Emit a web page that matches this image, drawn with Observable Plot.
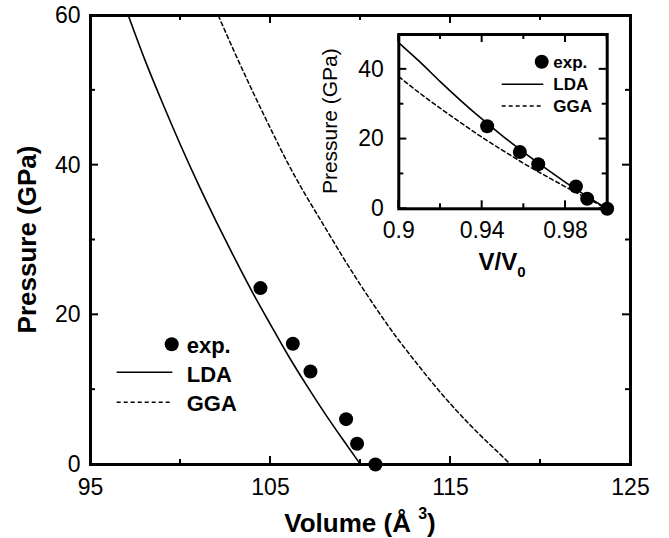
<!DOCTYPE html>
<html>
<head>
<meta charset="utf-8">
<script src="https://cdn.jsdelivr.net/npm/d3@7"></script>
<script src="https://cdn.jsdelivr.net/npm/@observablehq/plot@0.6"></script>
<style>
  html, body { margin: 0; padding: 0; background: #fff; }
  #wrap { position: relative; width: 669px; height: 538px; font-family: "Liberation Sans", Arial, sans-serif; }
  #wrap svg { position: absolute; overflow: visible; }
</style>
</head>
<body>
<div id="wrap"></div>
<script>
// ---------- data: main panel ----------
const ldaV = [97.1, 98, 99, 100, 101, 102, 103, 104, 105, 106, 107, 108, 109, 110];
const ldaP = [60, 54.2, 48.3, 42.7, 37.4, 32.4, 27.6, 23.0, 18.7, 14.5, 10.6, 6.9, 3.4, 0];
const ggaV = [102.1, 103, 104, 105, 106, 107, 108, 109, 110, 111, 112, 113, 114, 115, 116, 117, 118, 118.33];
const ggaP = [60, 55.1, 49.9, 44.9, 40.1, 35.8, 31.8, 27.8, 24.0, 20.4, 17.0, 13.9, 10.9, 8.1, 5.5, 3.1, 0.8, 0];
const expV = [104.44, 106.24, 107.22, 109.2, 109.81, 110.83];
const expP = [23.57, 16.13, 12.43, 6.06, 2.77, 0];
const mainMajorX = [95, 105, 115, 125];
const mainMinorX = [100, 110, 120];
const mainMajorY = [0, 20, 40, 60];
const mainMinorY = [10, 30, 50];

// ---------- data: inset ----------
const insetX = [0.9, 0.91, 0.92, 0.93, 0.94, 0.95, 0.96, 0.97, 0.98, 0.99, 1.0];
const insetLdaP = [47.6, 42.2, 36.4, 30.9, 25.7, 20.8, 16.2, 11.8, 7.6, 3.7, 0];
const insetGgaP = [37.9, 33.2, 28.8, 24.6, 20.5, 16.7, 13.0, 9.6, 6.3, 3.1, 0];
const insetExpX = [0.9424, 0.9581, 0.9669, 0.985, 0.9904, 1.0];
const insetExpP = [23.7, 16.3, 12.8, 6.4, 2.9, 0];
const insetMajorX = [0.9, 0.94, 0.98];
const insetMinorX = [0.92, 0.96, 1.0];
const insetMajorY = [0, 20, 40];
const insetMinorY = [10, 30, 50];

const FONT = '"Liberation Sans", Arial, sans-serif';
const wrap = document.getElementById("wrap");

function zip(xs, ys) { return xs.map((x, i) => ({x, y: ys[i]})); }

// inward ticks on all four sides, positioned through the plot's own scales
function drawTicks(svg, box, majX, minX, majY, minY, majLen, minLen) {
  const sx = svg.scale("x"), sy = svg.scale("y");
  const g = d3.select(svg).append("g").attr("stroke", "black").attr("stroke-width", 2);
  const x0 = box.left, x1 = box.width - box.right, y0 = box.top, y1 = box.height - box.bottom;
  const addX = (vals, len) => vals.forEach(v => {
    const px = sx.apply(v);
    g.append("line").attr("x1", px).attr("x2", px).attr("y1", y1).attr("y2", y1 - len);
    g.append("line").attr("x1", px).attr("x2", px).attr("y1", y0).attr("y2", y0 + len);
  });
  const addY = (vals, len) => vals.forEach(v => {
    const py = sy.apply(v);
    g.append("line").attr("y1", py).attr("y2", py).attr("x1", x0).attr("x2", x0 + len);
    g.append("line").attr("y1", py).attr("y2", py).attr("x1", x1).attr("x2", x1 - len);
  });
  addX(majX, majLen); addX(minX, minLen); addY(majY, majLen); addY(minY, minLen);
}

// ---------- main plot ----------
const M = {width: 669, height: 538, left: 90, right: 39, top: 15, bottom: 74};
const MH = M.height - M.top - M.bottom;
const main = Plot.plot({
  width: M.width, height: M.height,
  marginLeft: M.left, marginRight: M.right, marginTop: M.top, marginBottom: M.bottom,
  style: {fontSize: "23px", fontFamily: FONT, background: "transparent", color: "black"},
  x: {domain: [95, 125]},
  y: {domain: [0, 60]},
  marks: [
    Plot.line(zip(ldaV, ldaP), {x: "x", y: "y", stroke: "black", strokeWidth: 1.6, curve: "monotone-x"}),
    Plot.line(zip(ggaV, ggaP), {x: "x", y: "y", stroke: "black", strokeWidth: 1.5, strokeDasharray: "4,3", curve: "monotone-x"}),
    Plot.frame({stroke: "black", strokeWidth: 3}),
    Plot.dot(zip(expV, expP), {x: "x", y: "y", r: 7, fill: "black", stroke: "none"}),
    Plot.axisX({ticks: mainMajorX, tickSize: 0, tickPadding: 14, label: null, tickFormat: d => String(d)}),
    Plot.axisY({ticks: mainMajorY, tickSize: 0, tickPadding: 10, label: null, tickFormat: d => String(d)})
  ]
});
main.style.left = "0px"; main.style.top = "0px";
wrap.appendChild(main);
drawTicks(main, M, mainMajorX, mainMinorX, mainMajorY, mainMinorY, 8, 5);

const ms = d3.select(main);
ms.append("text")
  .attr("transform", `translate(36,${M.top + MH / 2}) rotate(-90)`)
  .attr("text-anchor", "middle").attr("font-weight", "bold").attr("font-size", 26)
  .attr("font-family", FONT).attr("fill", "black")
  .text("Pressure (GPa)");
const xt = ms.append("text")
  .attr("x", 360).attr("y", 531.5)
  .attr("text-anchor", "middle").attr("font-weight", "bold").attr("font-size", 26)
  .attr("font-family", FONT).attr("fill", "black");
xt.append("tspan").text("Volume (Å ");
xt.append("tspan").attr("font-size", 16).attr("dy", -13).text("3");
xt.append("tspan").attr("dy", 13).text(")");

// main legend
const lg = ms.append("g").attr("font-family", FONT).attr("font-weight", "bold").attr("font-size", 22)
  .attr("fill", "black").attr("text-anchor", "start");
lg.append("circle").attr("cx", 171.7).attr("cy", 344.3).attr("r", 7).attr("fill", "black");
lg.append("text").attr("x", 186.7).attr("y", 352.5).attr("text-anchor", "start").text("exp.");
lg.append("line").attr("x1", 116.7).attr("x2", 172.3).attr("y1", 372.3).attr("y2", 372.3).attr("stroke", "black").attr("stroke-width", 1.6);
lg.append("text").attr("x", 186.7).attr("y", 381.5).attr("text-anchor", "start").text("LDA");
lg.append("line").attr("x1", 116.7).attr("x2", 172.3).attr("y1", 402.3).attr("y2", 402.3).attr("stroke", "black").attr("stroke-width", 1.5).attr("stroke-dasharray", "4,3");
lg.append("text").attr("x", 186.7).attr("y", 410.5).attr("text-anchor", "start").text("GGA");

// ---------- inset ----------
const I = {x: 310, y: 0, width: 320, height: 285, left: 88.3, right: 23.3, top: 34, bottom: 76.7};
const IH = I.height - I.top - I.bottom;
const inset = Plot.plot({
  width: I.width, height: I.height,
  marginLeft: I.left, marginRight: I.right, marginTop: I.top, marginBottom: I.bottom,
  style: {fontSize: "23px", fontFamily: FONT, background: "transparent", color: "black"},
  x: {domain: [0.9, 1.0]},
  y: {domain: [0, 50]},
  marks: [
    Plot.line(zip(insetX, insetLdaP), {x: "x", y: "y", stroke: "black", strokeWidth: 1.6, curve: "monotone-x"}),
    Plot.line(zip(insetX, insetGgaP), {x: "x", y: "y", stroke: "black", strokeWidth: 1.5, strokeDasharray: "4,3", curve: "monotone-x"}),
    Plot.frame({stroke: "black", strokeWidth: 3}),
    Plot.dot(zip(insetExpX, insetExpP), {x: "x", y: "y", r: 7, fill: "black", stroke: "none"}),
    Plot.axisX({ticks: insetMajorX, tickSize: 0, tickPadding: 13, label: null, tickFormat: d => String(d)}),
    Plot.axisY({ticks: insetMajorY, tickSize: 0, tickPadding: 15, label: null, tickFormat: d => String(d)})
  ]
});
inset.style.left = I.x + "px"; inset.style.top = I.y + "px";
wrap.appendChild(inset);
drawTicks(inset, I, insetMajorX, insetMinorX, insetMajorY, insetMinorY, 8, 5);

const is = d3.select(inset);
is.append("text")
  .attr("transform", `translate(27,${I.top + IH / 2}) rotate(-90)`)
  .attr("text-anchor", "middle").attr("font-size", 21)
  .attr("font-family", FONT).attr("fill", "black")
  .text("Pressure (GPa)");
const vt = is.append("text")
  .attr("x", 192).attr("y", 270)
  .attr("text-anchor", "middle").attr("font-weight", "bold").attr("font-size", 24)
  .attr("font-family", FONT).attr("fill", "black");
vt.append("tspan").text("V/V");
vt.append("tspan").attr("font-size", 15).attr("dy", 7).text("0");

const il = is.append("g").attr("font-family", FONT).attr("font-weight", "bold").attr("font-size", 17)
  .attr("fill", "black").attr("text-anchor", "start");
il.append("circle").attr("cx", 231.7).attr("cy", 61.7).attr("r", 7).attr("fill", "black");
il.append("text").attr("x", 243.3).attr("y", 67.5).attr("text-anchor", "start").text("exp.");
il.append("line").attr("x1", 191.7).attr("x2", 233.3).attr("y1", 84.3).attr("y2", 84.3).attr("stroke", "black").attr("stroke-width", 1.6);
il.append("text").attr("x", 243.3).attr("y", 89.5).attr("text-anchor", "start").text("LDA");
il.append("line").attr("x1", 191.7).attr("x2", 233.3).attr("y1", 106).attr("y2", 106).attr("stroke", "black").attr("stroke-width", 1.5).attr("stroke-dasharray", "4,3");
il.append("text").attr("x", 243.3).attr("y", 111.5).attr("text-anchor", "start").text("GGA");
</script>
</body>
</html>
